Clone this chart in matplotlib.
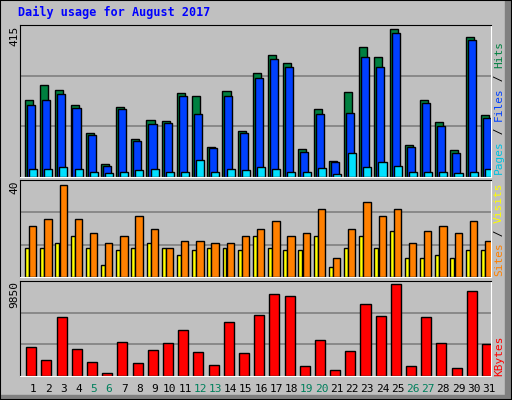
import numpy as np
import matplotlib.pyplot as plt
from matplotlib.patches import Rectangle

days = list(range(1, 32))
weekends = [5, 6, 12, 13, 19, 20, 26, 27]

hits = [210, 251, 237, 196, 119, 35, 191, 103, 155, 152, 229, 221, 81, 234, 125, 284,
        333, 311, 76, 185, 43, 232, 355, 327, 404, 87, 210, 150, 73, 382, 169]
files = [196, 210, 226, 188, 114, 29, 185, 98, 144, 147, 221, 171, 78, 221, 119, 270,
         322, 300, 67, 171, 40, 174, 327, 300, 393, 81, 202, 139, 65, 374, 161]
pages = [21, 21, 26, 21, 15, 10, 15, 18, 21, 15, 15, 46, 15, 21, 18, 26,
         21, 15, 13, 24, 7, 65, 26, 40, 29, 13, 13, 15, 10, 15, 21]
visits = [12, 12, 14, 17, 12, 5, 11, 12, 14, 12, 9, 11, 12, 12, 11, 17,
          12, 11, 11, 17, 4, 12, 17, 12, 19, 8, 8, 9, 8, 11, 11]
sites = [21, 24, 38, 24, 18, 14, 17, 25, 20, 12, 15, 15, 14, 14, 17, 20,
         23, 17, 18, 28, 8, 20, 31, 25, 28, 14, 19, 21, 18, 23, 15]
kbytes = [3052, 1699, 6069, 2844, 1491, 347, 3572, 1387, 2740, 3468, 4821, 2532, 1179,
          5549, 2428, 6277, 8462, 8254, 1075, 3780, 659, 2636, 7422, 6173, 9502, 1075,
          6069, 3468, 867, 8774, 3364]

W, H = 512, 400
BG = '#C0C0C0'
MONO = 'DejaVu Sans Mono'
fig = plt.figure(figsize=(W / 100, H / 100), dpi=100, facecolor=BG)

# raised border
fig.patches.append(Rectangle((0, 0), 1, 1, transform=fig.transFigure, fill=False,
                             edgecolor='black', lw=1.5))
fig.patches.append(Rectangle((505 / W, 0), 7 / W, 1, transform=fig.transFigure,
                             color='#808080', zorder=0))
fig.patches.append(Rectangle((0, 0), 1, 5 / H, transform=fig.transFigure,
                             color='#808080', zorder=0))


def panel(top, bottom):
    ax = fig.add_axes([20 / W, 1 - bottom / H, 471 / W, (bottom - top) / H])
    ax.set_facecolor(BG)
    ax.set_xlim(0.5, 31.5)
    ax.set_xticks([])
    ax.set_yticks([])
    for s in ['top', 'left']:
        ax.spines[s].set_color('black')
    for s in ['bottom', 'right']:
        ax.spines[s].set_color('white')
    return ax


x = np.array(days)
kw = dict(edgecolor='black', linewidth=1)

ax1 = panel(25, 177)
ax1.set_ylim(0, 415)
for g in [415 / 3, 415 * 2 / 3]:
    ax1.axhline(g, color='#808080', lw=1.2, zorder=0)
ax1.bar(x + 0.09, hits, 0.53, color='#008040', **kw)
ax1.bar(x + 0.22, files, 0.53, color='#0040FF', **kw)
ax1.bar(x + 0.36, pages, 0.53, color='#00E0FF', **kw)

ax2 = panel(180, 277)
ax2.set_ylim(0, 40)
for g in [40 / 3, 80 / 3]:
    ax2.axhline(g, color='#808080', lw=1.2, zorder=0)
ax2.bar(x - 0.04, visits, 0.26, color='#FFFF00', **kw)
ax2.bar(x + 0.34, sites, 0.48, color='#FF8000', **kw)

ax3 = panel(281, 376)
ax3.set_ylim(0, 9850)
for g in [9850 / 3, 9850 * 2 / 3]:
    ax3.axhline(g, color='#808080', lw=1.2, zorder=0)
ax3.bar(x + 0.24, kbytes, 0.66, color='#FF0000', **kw)

# day labels
for d in days:
    px = 20 + (d + 0.36 - 0.5) * 471 / 31
    c = '#00805C' if d in weekends else 'black'
    fig.text(px / W, 1 - 389 / H, str(d), ha='center', va='center',
             fontsize=8, color=c, family=MONO)

fig.text(18 / W, 1 - 12 / H, 'Daily usage for August 2017', color='#0000FF',
         fontsize=8.5, fontweight='bold', family=MONO, va='center', ha='left')

# left max labels
for txt, y0 in [('415', 26), ('40', 181), ('9850', 281)]:
    fig.text(14 / W, 1 - y0 / H, txt, rotation=90, ha='center', va='top',
             fontsize=8, family=MONO)


def side(parts, ybottom):
    y = ybottom
    for t, c in parts:
        fig.text(499 / W, 1 - y / H, t, rotation=90, ha='center', va='bottom',
                 fontsize=8, color=c, family=MONO)
        y -= len(t) * 6.6 + 0


side([('Pages', '#00C0E0'), (' / ', 'black'), ('Files', '#0040FF'),
      (' / ', 'black'), ('Hits', '#008040')], 142 + 52 - 20)
side([('Sites', '#FF8000'), (' / ', 'black'), ('Visits', '#FFFF00')], 276)
side([('KBytes', '#FF0000')], 376)

fig.savefig('out.png', dpi=100, facecolor=BG)
